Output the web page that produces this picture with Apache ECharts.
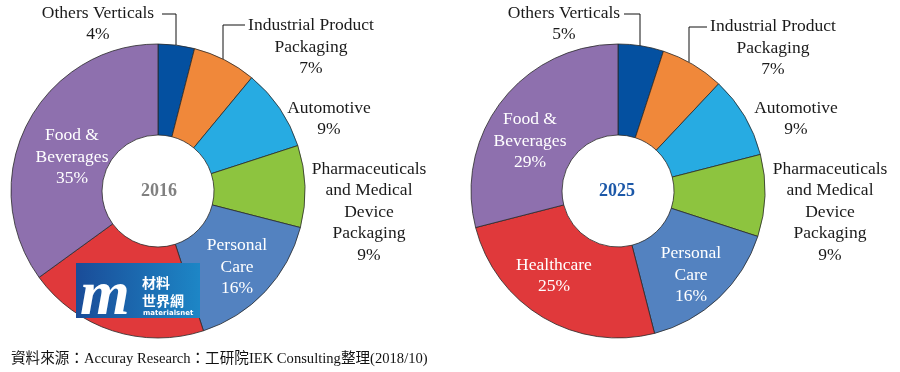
<!DOCTYPE html>
<html>
<head>
<meta charset="utf-8">
<script src="https://cdn.jsdelivr.net/npm/echarts@6/dist/echarts.min.js"></script>
<style>
html,body{margin:0;padding:0;background:#fff;}
#c{width:900px;height:372px;}
</style>
</head>
<body>
<div id="c"></div>
<script>
// ---- data ----
var categories = ['Others Verticals', 'Industrial Product Packaging', 'Automotive',
  'Pharmaceuticals and Medical Device Packaging', 'Personal Care', 'Healthcare', 'Food & Beverages'];
var labelText = ['Others Verticals', 'Industrial Product\nPackaging', 'Automotive',
  'Pharmaceuticals\nand Medical\nDevice\nPackaging', 'Personal\nCare', 'Healthcare', 'Food &\nBeverages'];
var values2016 = [4, 7, 9, 9, 16, 20, 35];
var values2025 = [5, 7, 9, 9, 16, 25, 29];
var years = ['2016', '2025'];
var sourceNote = '資料來源：Accuray Research：工研院IEK Consulting整理(2018/10)';

// ---- styles / layout ----
var colors = ['#0450a0', '#f0883a', '#27abe2', '#8dc43f', '#5382c0', '#e0393b', '#8e70ae'];
var insideIdx = [4, 5, 6];
var centers = [[158, 191], [618, 191]];
var yearColors = ['#808080', '#1c58a8'];
var labelPos = [
  [[98, 24], [311, 47], [329, 119], [369, 212], [237, 267], [127, 287], [72, 157]],
  [[564, 24], [773, 48], [796, 119], [830, 212], [691, 275], [554, 276], [530, 141]]
];
var linePts = [
  {0: [[162, 14], [176, 14], [176, 45]], 1: [[245, 25], [223, 25], [223, 59]]},
  {0: [[624, 14], [640, 14], [640, 46]], 1: [[707, 27], [689, 27], [689, 62]]}
];

var serif = '"Liberation Serif", "Times New Roman", serif';

function buildData(vals) {
  return categories.map(function (c, i) {
    var inside = insideIdx.indexOf(i) >= 0;
    return {
      name: c,
      value: vals[i],
      itemStyle: {color: colors[i]},
      label: {color: inside ? '#ffffff' : '#1a1a1a'},
      labelLine: {show: i <= 1}
    };
  });
}

function makeSeries(vals, k) {
  return {
    type: 'pie',
    center: centers[k],
    radius: [56, 147],
    startAngle: 90,
    clockwise: true,
    avoidLabelOverlap: false,
    silent: true,
    animation: false,
    z: 2,
    itemStyle: {borderColor: '#2a2a2a', borderWidth: 0.8},
    label: {
      show: true,
      position: 'outside',
      fontFamily: serif,
      fontSize: 17.5,
      lineHeight: 21.5,
      align: 'center',
      formatter: function (p) { return labelText[p.dataIndex] + '\n' + p.value + '%'; }
    },
    labelLine: {lineStyle: {color: '#111', width: 1}},
    labelLayout: function (p) {
      var pos = labelPos[k][p.dataIndex];
      var r = {x: pos[0], y: pos[1], align: 'center', verticalAlign: 'middle'};
      var lp = linePts[k][p.dataIndex];
      if (lp) r.labelLinePoints = lp;
      return r;
    },
    data: buildData(vals)
  };
}

var logoZ = 100;
var chart = echarts.init(document.getElementById('c'), null, {renderer: 'canvas'});
chart.setOption({
  backgroundColor: '#ffffff',
  animation: false,
  series: [makeSeries(values2016, 0), makeSeries(values2025, 1)],
  graphic: [
    {type: 'text', x: centers[0][0] + 1, y: centers[0][1], z: 10,
      style: {text: years[0], font: 'bold 18px ' + serif, fill: yearColors[0], align: 'center', verticalAlign: 'middle'}},
    {type: 'text', x: centers[1][0] - 1, y: centers[1][1], z: 10,
      style: {text: years[1], font: 'bold 18px ' + serif, fill: yearColors[1], align: 'center', verticalAlign: 'middle'}},
    {type: 'text', x: 11, y: 359, z: 10,
      style: {text: sourceNote, font: '14.6px ' + serif + ', "Noto Sans CJK TC"', fill: '#111', verticalAlign: 'middle'}},
    // logo
    {type: 'rect', z: logoZ, shape: {x: 76, y: 263, width: 124, height: 55},
      style: {fill: new echarts.graphic.LinearGradient(0, 0, 1, 0, [
        {offset: 0, color: '#1a4c98'}, {offset: 1, color: '#1d86c6'}])}},
    {type: 'text', z: logoZ + 1, x: 80, y: 265,
      style: {text: 'm', font: 'italic bold 64px "Liberation Serif", serif', fill: '#ffffff'}},
    {type: 'text', z: logoZ + 1, x: 142, y: 276,
      style: {text: '材料', font: 'bold 14px "Noto Sans CJK TC"', fill: '#ffffff'}},
    {type: 'text', z: logoZ + 1, x: 142, y: 294,
      style: {text: '世界網', font: 'bold 14px "Noto Sans CJK TC"', fill: '#ffffff'}},
    {type: 'text', z: logoZ + 1, x: 143, y: 310,
      style: {text: 'materialsnet', font: 'bold 7px "DejaVu Sans"', fill: '#ffffff'}}
  ]
});
</script>
</body>
</html>
